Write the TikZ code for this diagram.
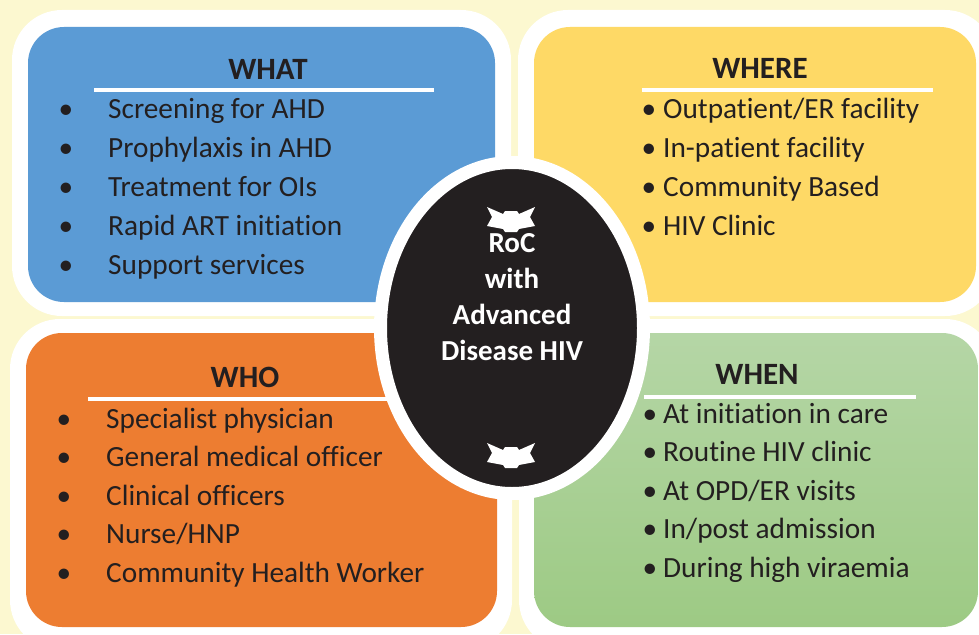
\documentclass[tikz,border=0pt]{standalone}
\usepackage{fontspec}
\setmainfont{Carlito}[Ligatures=NoCommon]
\usetikzlibrary{shapes.geometric}

\definecolor{bgyellow}{HTML}{FCF8D0}
\definecolor{whatblue}{HTML}{5B9BD5}
\definecolor{whereyellow}{HTML}{FED966}
\definecolor{whoorange}{HTML}{ED7D31}
\definecolor{whengreentop}{HTML}{B5D6A6}
\definecolor{whengreenbot}{HTML}{9DCA84}
\definecolor{inkdark}{HTML}{231F20}

\tikzset{
  panelrim/.style={fill=white, rounded corners=50pt},
  panelbody/.style={rounded corners=36pt},
  heading/.style={anchor=base, inner sep=0pt, text=inkdark, font=\bfseries\fontsize{31}{37}\selectfont},
  headrule/.style={white, line width=4pt},
  listdot/.style={anchor=base, inner sep=0pt, text=inkdark, font=\fontsize{29.3}{35}\selectfont},
  listitem/.style={anchor=base west, inner sep=0pt, text=inkdark, font=\fontsize{29.3}{35}\selectfont},
  hubtext/.style={anchor=base, inner sep=0pt, text=white, font=\bfseries\fontsize{29}{35}\selectfont},
}

\begin{document}
\begin{tikzpicture}[x=1pt,y=-1pt]
	\useasboundingbox (0,0) rectangle (979,634);
	\clip (0,0) rectangle (979,634);
	\fill[bgyellow] (0,0) rectangle (979,634);
	% panels
	\fill[panelrim] (12,10) rectangle (511,316);
	\fill[panelbody, whatblue] (28,27) rectangle (495,302);
	\fill[panelrim] (518,10) rectangle (995,316);
	\fill[panelbody, whereyellow] (534,27) rectangle (976,302);
	\fill[panelrim] (10,319) rectangle (512,650);
	\fill[panelbody, whoorange] (26,333) rectangle (497,627);
	\fill[panelrim] (519,319) rectangle (995,650);
	\shade[panelbody, top color=whengreentop, bottom color=whengreenbot] (534,333) rectangle (978,627);
	% headings
	\node (what) [heading] at (268,79) {WHAT};
	\draw[headrule] (94,90) -- (434,90);
	\node (where) [heading] at (760,78) {WHERE};
	\draw[headrule] (642,90) -- (933,90);
	\node (who) [heading] at (245,387) {WHO};
	\draw[headrule] (88,399) -- (420,399);
	\node (when) [heading] at (757,384) {WHEN};
	\draw[headrule] (644,397) -- (916,397);
	% lists
	\foreach \txt [count=\i] in {Screening for AHD, Prophylaxis in AHD, Treatment for OIs, Rapid ART initiation, Support services}{
		\node (whatdot\i) [listdot] at (66,79+39*\i) {•};
		\node (whatitem\i) [listitem] at (108,79+39*\i) {\txt};
	}
	\foreach \txt [count=\i] in {Outpatient/ER facility, In-patient facility, Community Based, HIV Clinic}{
		\node (wheredot\i) [listdot] at (649,79+39*\i) {•};
		\node (whereitem\i) [listitem] at (663,79+39*\i) {\txt};
	}
	\foreach \txt [count=\i] in {Specialist physician, General medical officer, Clinical officers, Nurse/HNP, Community Health Worker}{
		\node (whodot\i) [listdot] at (64,389.5+38.5*\i) {•};
		\node (whoitem\i) [listitem] at (106,389.5+38.5*\i) {\txt};
	}
	\foreach \txt [count=\i] in {At initiation in care, Routine HIV clinic, At OPD/ER visits, In/post admission, During high viraemia}{
		\node (whendot\i) [listdot] at (650,384.5+38.5*\i) {•};
		\node (whenitem\i) [listitem] at (663,384.5+38.5*\i) {\txt};
	}
	% centre
	\node (hub) [ellipse, fill=inkdark, draw=white, line width=13pt, minimum width=263pt, minimum height=331pt, inner sep=0pt] at (512,328) {};
	\foreach \y in {219,455}
		\fill[white, shift={(511,\y)}] (-24,-12) -- (-8,-5) -- (-6,-8) -- (6,-8) -- (8,-5) -- (24,-12) -- (19,-2) -- (24,7) -- (8,10) -- (6,13) -- (-6,13) -- (-8,10) -- (-24,7) -- (-19,-2) -- cycle;
	\foreach \txt [count=\i] in {RoC, with, Advanced, Disease HIV}
		\node (hubline\i) [hubtext] at (512,216+36*\i) {\txt};
\end{tikzpicture}
\end{document}
